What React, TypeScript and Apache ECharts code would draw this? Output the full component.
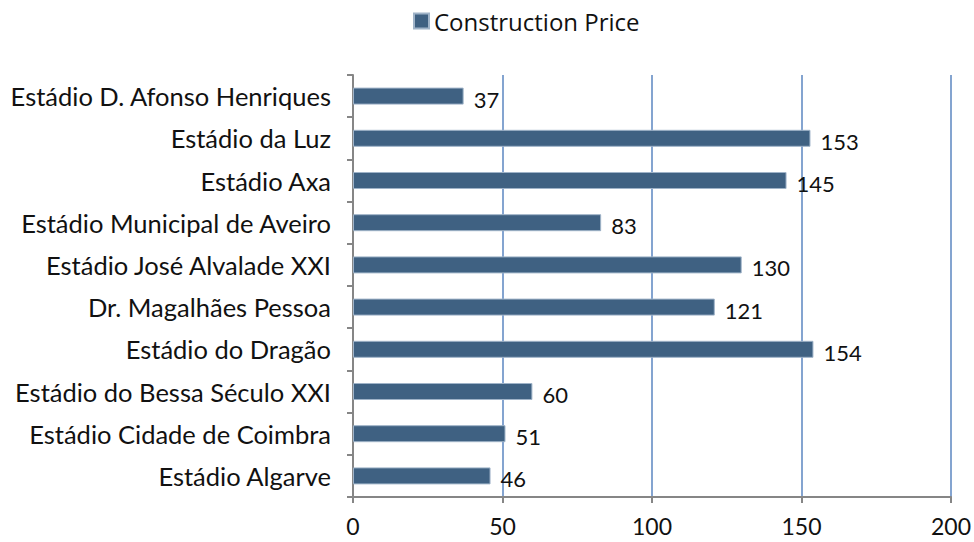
import React, { useEffect, useRef } from "react";
import * as echarts from "echarts";

const categories = [
  "Estádio D. Afonso Henriques",
  "Estádio da Luz",
  "Estádio Axa",
  "Estádio Municipal de Aveiro",
  "Estádio José Alvalade XXI",
  "Dr. Magalhães Pessoa",
  "Estádio do Dragão",
  "Estádio do Bessa Século XXI",
  "Estádio Cidade de Coimbra",
  "Estádio Algarve",
];
const constructionPrice = [37, 153, 145, 83, 130, 121, 154, 60, 51, 46];
const seriesName = "Construction Price";

export default function App() {
  const ref = useRef<HTMLDivElement>(null);
  useEffect(() => {
    const chart = echarts.init(ref.current!, null, { renderer: "svg" });
    chart.setOption({
      animation: false,
      backgroundColor: "#ffffff",
      legend: {
        data: [seriesName],
        left: 408,
        top: 4,
        itemWidth: 15,
        itemHeight: 15,
        itemGap: 5,
        icon: "rect",
        textStyle: { fontSize: 24, color: "#111", fontFamily: "Open Sans" },
      },
      grid: { left: 353, right: 21, top: 75, bottom: 45, containLabel: false },
      xAxis: {
        type: "value",
        min: 0,
        max: 200,
        interval: 50,
        axisLine: { show: true, lineStyle: { color: "#868686", width: 2 } },
        axisTick: { show: true, length: 6, lineStyle: { color: "#868686", width: 2 } },
        splitLine: { show: true, lineStyle: { color: "#5b86c0", width: 1.5 } },
        axisLabel: { fontSize: 23, color: "#111", margin: 17, fontFamily: "Lato" },
      },
      yAxis: {
        type: "category",
        data: categories,
        inverse: true,
        axisLine: { show: true, lineStyle: { color: "#868686", width: 2 } },
        axisTick: { show: true, length: 6, alignWithLabel: false, lineStyle: { color: "#868686", width: 2 } },
        axisLabel: { fontSize: 25.5, color: "#111", margin: 22, fontFamily: "Lato" },
        splitLine: { show: false },
      },
      series: [
        {
          name: seriesName,
          type: "bar",
          data: constructionPrice,
          barWidth: 17,
          itemStyle: { color: "#3f6182", borderColor: "#9fb3c8", borderWidth: 1 },
          label: {
            show: true,
            position: "right",
            distance: 10,
            offset: [0, 3],
            fontSize: 22,
            color: "#111",
            fontFamily: "Lato",
          },
        },
      ],
    });
    return () => chart.dispose();
  }, []);
  return <div ref={ref} style={{ width: 974, height: 542, position: "absolute", left: 0, top: 0 }} />;
}
